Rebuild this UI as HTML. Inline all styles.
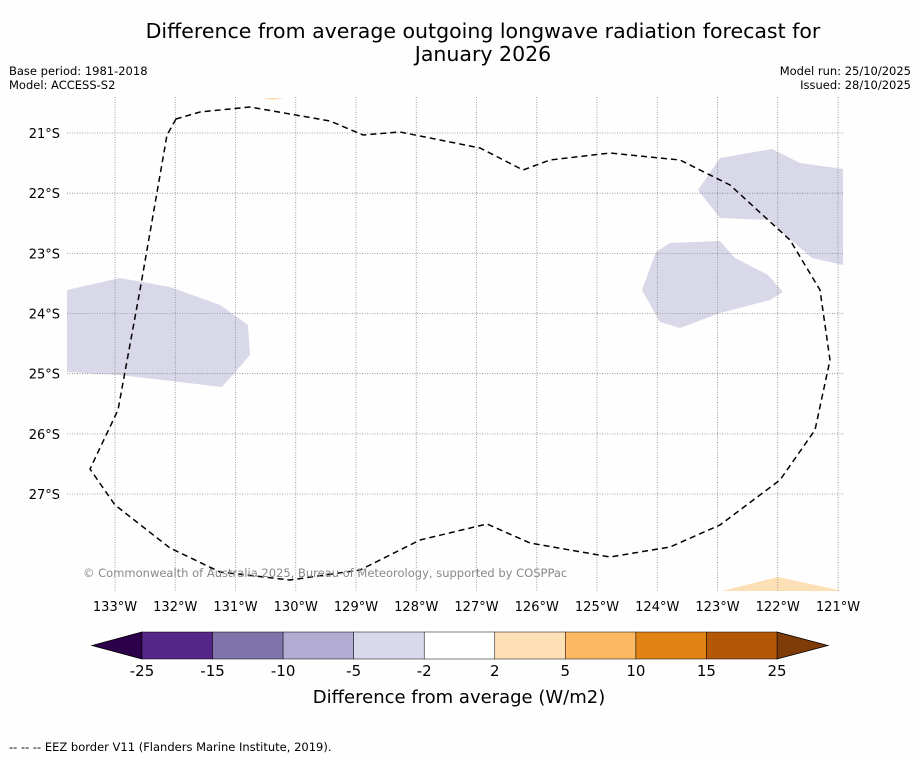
<!DOCTYPE html>
<html><head><meta charset="utf-8"><style>
body{margin:0;background:#fefefe;font-family:"DejaVu Sans","Liberation Sans",sans-serif;}
svg text{font-family:"DejaVu Sans","Liberation Sans",sans-serif;}
</style></head><body>
<svg id="chart" width="919" height="758" viewBox="0 0 919 758" xmlns="http://www.w3.org/2000/svg">
<rect width="919" height="758" fill="#fefefe"/>
<text x="483" y="38" font-size="20.5" text-anchor="middle">Difference from average outgoing longwave radiation forecast for</text>
<text x="483" y="61" font-size="20.5" text-anchor="middle">January 2026</text>
<text x="9" y="75" font-size="11.5">Base period: 1981-2018</text>
<text x="9" y="89" font-size="11.5">Model: ACCESS-S2</text>
<text x="911" y="75" font-size="11.5" text-anchor="end">Model run: 25/10/2025</text>
<text x="911" y="89" font-size="11.5" text-anchor="end">Issued: 28/10/2025</text>
<g id="map">
<polygon points="67,290 120,278 170,287 220,305 248,325 250,355 222,387 120,375 67,372" fill="#d8d8e8"/>
<polygon points="698,190 720,158 772,149 800,163 843,169 843,265 812,258 785,235 770,220 720,218" fill="#d8d8e8"/>
<polygon points="642,290 656,252 670,243 720,241 735,258 768,275 783,292 770,300 720,313 680,328 660,322" fill="#d8d8e8"/>
<polygon points="722,591 778,577 843,591" fill="#fddfb5"/>
<polygon points="262,98 285,98 273,100" fill="#fddfb5"/>
<g id="grid" stroke="#888" stroke-width="0.8" stroke-dasharray="1,1.5"></g>
<path d="M176,119 L167,135 L140,290 L118,410 L90,469 L115,505 L170,548 L220,572 L290,580 L360,570 L420,540 L487,524 L530,543 L610,557 L670,547 L720,525 L780,480 L815,430 L830,360 L820,290 L790,240 L730,185 L680,160 L610,153 L550,160 L523,170 L480,148 L400,132 L363,135 L330,121 L250,107 L200,112 Z" fill="none" stroke="#000" stroke-width="1.5" stroke-dasharray="6,4"/>
<text x="83" y="577" font-size="11.5" fill="#888">© Commonwealth of Australia 2025, Bureau of Meteorology, supported by COSPPac</text>
<g id="axes"></g>
</g>
<g id="cbar"></g>
<text x="459" y="703" font-size="18" text-anchor="middle">Difference from average (W/m2)</text>
<text x="9" y="751" font-size="11.5">--  --  -- EEZ border V11 (Flanders Marine Institute, 2019).</text>
</svg>
<script>
const lons=[133,132,131,130,129,128,127,126,125,124,123,122,121];
const lats=[21,22,23,24,25,26,27];
const cbTicks=[-25,-15,-10,-5,-2,2,5,10,15,25];
const cbColors=["#542788","#8073ac","#b2abd2","#d8daeb","#ffffff","#fee0b6","#fdb863","#e08214","#b35806"];
const NS="http://www.w3.org/2000/svg";
const xLon=l=>115+(133-l)*60.25;
const yLat=l=>133+(l-21)*60.17;
function mk(t,a,p){const e=document.createElementNS(NS,t);for(const k in a)e.setAttribute(k,a[k]);p.appendChild(e);return e;}
const grid=document.getElementById('grid'),axes=document.getElementById('axes');
lons.forEach(l=>{const x=xLon(l);
 const ln=mk('line',{x1:x,x2:x,y1:97,y2:591},grid);
 
 
 const t=mk('text',{x:x,y:611,'font-size':13,'text-anchor':'middle'},axes);t.textContent=l+'°W';
 
 });
lats.forEach(l=>{const y=yLat(l);
 const ln=mk('line',{x1:67,x2:843,y1:y,y2:y},grid);
 
 
 const t=mk('text',{x:60,y:y+5,'font-size':13,'text-anchor':'end'},axes);t.textContent=l+'°S';
 
 });
const cb=document.getElementById('cbar');
const cx=i=>142+i*(777-142)/(cbTicks.length-1);
const cbTop=632,cbH=27;
const lt=mk('polygon',{points:`92,${cbTop+cbH/2} ${cx(0)},${cbTop} ${cx(0)},${cbTop+cbH}`,fill:'#2d004b',stroke:'#000','stroke-width':0.8},cb);


const rt=mk('polygon',{points:`828,${cbTop+cbH/2} ${cx(9)},${cbTop} ${cx(9)},${cbTop+cbH}`,fill:'#7f3b08',stroke:'#000','stroke-width':0.8},cb);


cbColors.forEach((c,i)=>{const r=mk('rect',{x:cx(i),y:cbTop,width:cx(i+1)-cx(i),height:cbH,fill:c,stroke:'#000','stroke-width':0.5},cb);
 
 });
cbTicks.forEach((v,i)=>{const t=mk('text',{x:cx(i),y:676,'font-size':15,'text-anchor':'middle'},cb);t.textContent=v;
 
 });
</script>
</body></html>
